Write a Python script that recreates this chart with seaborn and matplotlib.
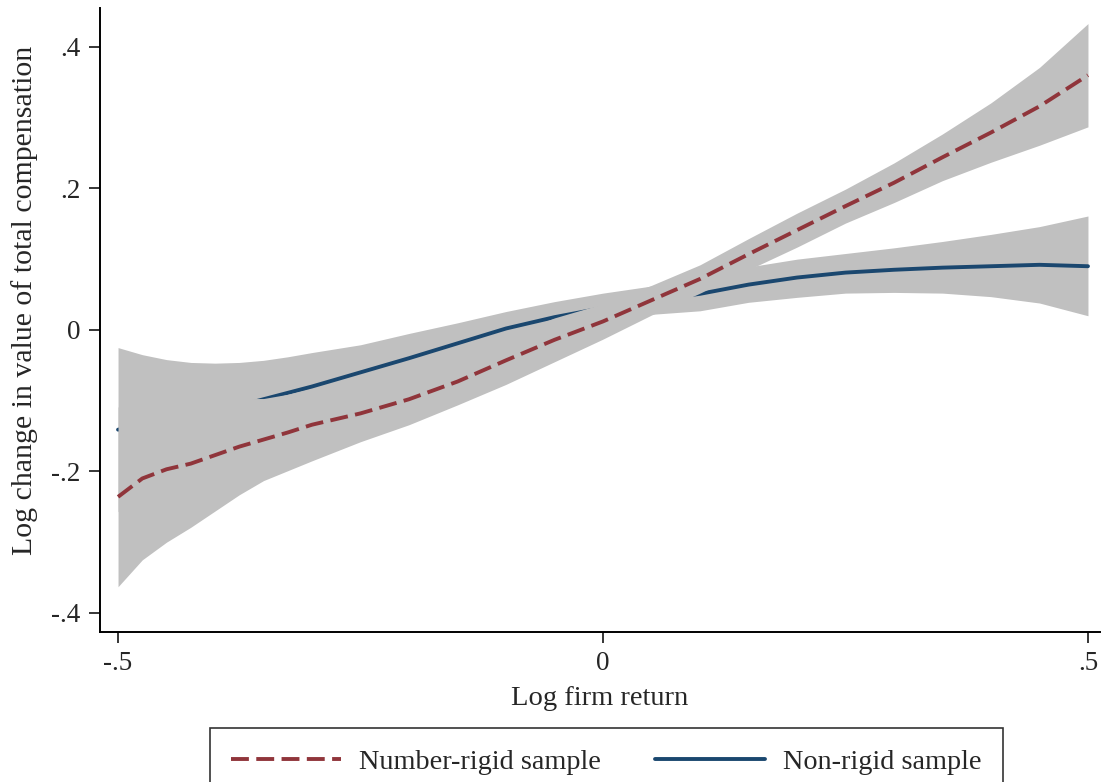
import numpy as np
import pandas as pd
import seaborn as sns
import matplotlib.pyplot as plt

# fitted values and confidence bands
x_grid = [-0.5, -0.475, -0.45, -0.425, -0.4, -0.375, -0.35, -0.325, -0.3, -0.25,
          -0.2, -0.15, -0.1, -0.05, 0.0, 0.05, 0.1, 0.15, 0.2, 0.25, 0.3, 0.35,
          0.4, 0.45, 0.5]

rigid_fit = [-0.236, -0.21, -0.197, -0.189, -0.177, -0.165, -0.155, -0.145, -0.134, -0.118,
             -0.098, -0.073, -0.043, -0.014, 0.012, 0.042, 0.072, 0.107, 0.141, 0.175, 0.208,
             0.244, 0.279, 0.316, 0.36]
rigid_lo = [-0.363, -0.325, -0.300, -0.279, -0.256, -0.233, -0.213, -0.199, -0.185, -0.158,
            -0.134, -0.106, -0.077, -0.045, -0.013, 0.021, 0.052, 0.085, 0.117, 0.151, 0.180,
            0.211, 0.237, 0.261, 0.287]
rigid_hi = [-0.109, -0.095, -0.094, -0.099, -0.098, -0.097, -0.097, -0.091, -0.083, -0.078,
            -0.062, -0.040, -0.009, 0.017, 0.037, 0.063, 0.092, 0.129, 0.165, 0.199, 0.236,
            0.277, 0.321, 0.371, 0.433]

nonrigid_fit = [-0.141, -0.135, -0.129, -0.122, -0.115, -0.107, -0.098, -0.089, -0.080, -0.060,
                -0.040, -0.019, 0.002, 0.018, 0.031, 0.042, 0.051, 0.064, 0.074, 0.081, 0.085,
                0.088, 0.090, 0.092, 0.090]
nonrigid_lo = [-0.257, -0.235, -0.216, -0.198, -0.183, -0.168, -0.153, -0.140, -0.128, -0.099,
               -0.075, -0.048, -0.022, -0.004, 0.010, 0.022, 0.027, 0.039, 0.046, 0.052, 0.053,
               0.052, 0.047, 0.038, 0.020]
nonrigid_hi = [-0.025, -0.035, -0.042, -0.046, -0.047, -0.046, -0.043, -0.038, -0.032, -0.021,
               -0.005, 0.010, 0.026, 0.040, 0.052, 0.062, 0.076, 0.089, 0.100, 0.108, 0.116,
               0.125, 0.135, 0.146, 0.161]

x_ticks = [-0.5, 0, 0.5]
x_ticklabels = ["-.5", "0", ".5"]
y_ticks = [-0.4, -0.2, 0, 0.2, 0.4]
y_ticklabels = ["-.4", "-.2", "0", ".2", ".4"]

navy = "#1a476f"
maroon = "#90353b"
band = "#c0c0c0"

sns.set_style("white")
plt.rcParams["font.family"] = ["Liberation Serif", "DejaVu Serif"]

df = pd.DataFrame({
    "x": x_grid * 2,
    "y": rigid_fit + nonrigid_fit,
    "sample": ["Number-rigid sample"] * len(x_grid) + ["Non-rigid sample"] * len(x_grid),
})

fig = plt.figure(figsize=(11.03, 7.82), dpi=100)
ax = fig.add_axes([100 / 1103, 1 - 632 / 782, 1000 / 1103, 624 / 782])

# non-rigid first, the rigid band is drawn over it
ax.fill_between(x_grid, nonrigid_lo, nonrigid_hi, color=band, lw=0, zorder=1)
sns.lineplot(data=df[df["sample"] == "Non-rigid sample"], x="x", y="y", ax=ax,
             color=navy, lw=2.8, zorder=2, legend=False)
ax.fill_between(x_grid, rigid_lo, rigid_hi, color=band, lw=0, zorder=3)
sns.lineplot(data=df[df["sample"] == "Number-rigid sample"], x="x", y="y", ax=ax,
             color=maroon, lw=2.8, zorder=4, legend=False)
ax.lines[-1].set_dashes((4.6, 1.9))

ax.set_xlim(-0.5186, 0.5124)
ax.set_ylim(-0.427, 0.455)
ax.set_xticks(x_ticks)
ax.set_xticklabels(x_ticklabels)
ax.set_yticks(y_ticks)
ax.set_yticklabels(y_ticklabels)
ax.tick_params(axis="both", direction="out", length=8, width=1.1, color="black",
               labelsize=19.5, pad=6, left=True, bottom=True)
for side in ["top", "right"]:
    ax.spines[side].set_visible(False)
for side in ["left", "bottom"]:
    ax.spines[side].set_color("black")
    ax.spines[side].set_linewidth(1.4)

ax.set_xlabel("Log firm return", fontsize=20.5, labelpad=7)
ax.set_ylabel("Log change in value of total compensation", fontsize=21.5)
ax.yaxis.set_label_coords(-0.062, (632 - 300) / 624)

handles = [ax.lines[-1], ax.lines[0]]
leg = fig.legend(handles, ["Number-rigid sample", "Non-rigid sample"], ncol=2,
                 loc="upper left", bbox_to_anchor=(210 / 1103, 1 - 728 / 782),
                 fontsize=20.3, frameon=True, fancybox=False, edgecolor="black",
                 handlelength=3.9, handletextpad=0.65, columnspacing=1.9,
                 borderpad=0.75, borderaxespad=0)
leg.get_frame().set_linewidth(1.2)

fig.savefig("out.png", dpi=100)
